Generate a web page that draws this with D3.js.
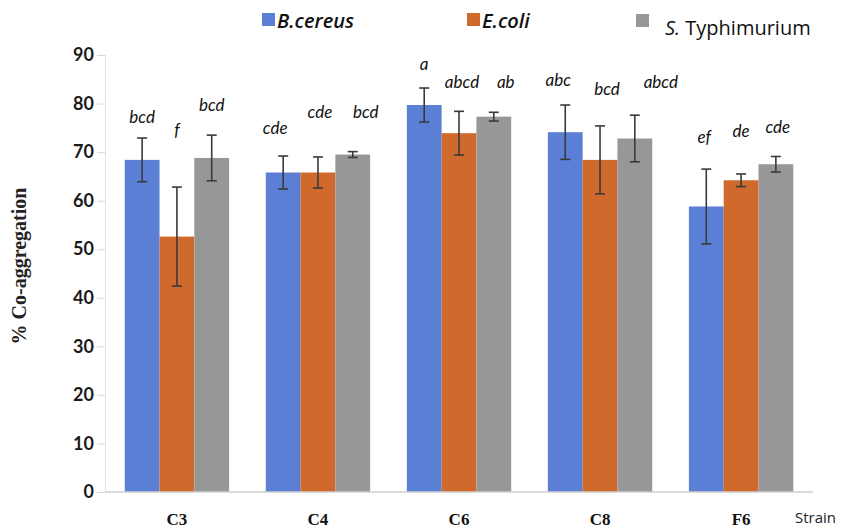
<!doctype html>
<html>
  <head>
    <style>
      body { margin: 0; background: white; }
      .tick text { font-family: Lato, "Open Sans", sans-serif; font-weight: 700; font-size: 18px; fill: #1a1a1a; }
      .letters { font-family: Lato, sans-serif; font-style: italic; font-size: 17px; fill: #111; }
      .strain { font-family: "Liberation Serif", serif; font-weight: 700; font-size: 17px; fill: #111; }
    </style>
    <script src="https://cdnjs.cloudflare.com/ajax/libs/d3/7.8.5/d3.min.js"></script>
  </head>
  <body>
    <div id="chart"></div>
    <script>
      var width = 843,
          height = 530;
      var margin = {top: 55, right: 30, bottom: 38, left: 105};

      // values
      var strains = ["C3", "C4", "C6", "C8", "F6"];
      var species = ["B.cereus", "E.coli", "S. Typhimurium"];
      var bcereus = [68.4, 65.8, 79.7, 74.1, 58.8];
      var ecoli = [52.6, 65.8, 73.9, 68.4, 64.2];
      var styph = [68.8, 69.5, 77.3, 72.8, 67.5];
      var bcereusErr = [4.5, 3.4, 3.5, 5.6, 7.7];
      var ecoliErr = [10.2, 3.2, 4.5, 7.0, 1.3];
      var styphErr = [4.7, 0.6, 0.9, 4.8, 1.6];
      var bcereusLetters = ["bcd", "cde", "a", "abc", "ef"];
      var ecoliLetters = ["f", "cde", "abcd", "bcd", "de"];
      var styphLetters = ["bcd", "bcd", "ab", "abcd", "cde"];
      // height (in % units) where each letter group sits
      var bcereusLetterY = [76.0, 73.7, 86.9, 83.6, 71.9];
      var ecoliLetterY = [73.3, 77.0, 83.2, 81.8, 73.1];
      var styphLetterY = [78.5, 77.0, 83.2, 83.2, 73.9];
      var yTicks = [0, 10, 20, 30, 40, 50, 60, 70, 80, 90];
      var colors = ["#5b7fd5", "#d06a2c", "#979797"];
      // sideways nudges of the letters, as placed by hand in the original
      var letterShift = [[0, -8, 0, -7, -2], [0, 2, 3, 7, 0], [0, 13, 12, 26, 2]];

      var values = [bcereus, ecoli, styph],
          errors = [bcereusErr, ecoliErr, styphErr],
          letters = [bcereusLetters, ecoliLetters, styphLetters],
          letterY = [bcereusLetterY, ecoliLetterY, styphLetterY];

      var rows = [];
      strains.forEach(function(s, i) {
        species.forEach(function(sp, j) {
          rows.push({strain: s, species: sp, i: i, j: j, value: values[j][i],
                     err: errors[j][i], letter: letters[j][i], ly: letterY[j][i]});
        });
      });

      var svg = d3.select("#chart").append("svg")
                  .attr("width", width)
                  .attr("height", height);

      var x = d3.scaleBand().domain(strains)
                .range([margin.left, width - margin.right])
                .paddingInner(0.26).paddingOuter(0.14);
      var xs = d3.scaleBand().domain(species).range([0, x.bandwidth()]);
      var y = d3.scaleLinear().domain([0, 90]).range([height - margin.bottom, margin.top]);

      // y axis, pale line and ticks like excel
      var yAxis = svg.append("g")
                     .attr("transform", "translate(" + margin.left + ",0)")
                     .call(d3.axisLeft(y).tickValues(yTicks).tickSize(8).tickPadding(3));
      yAxis.select(".domain").attr("stroke", "#e3e3e3");
      yAxis.selectAll(".tick line").attr("stroke", "#d9d9d9");

      // bars
      svg.selectAll(".bar")
         .data(rows)
         .enter().append("rect")
         .attr("class", "bar")
         .attr("x", function(d) { return x(d.strain) + xs(d.species); })
         .attr("y", function(d) { return y(d.value); })
         .attr("width", xs.bandwidth())
         .attr("height", function(d) { return y(0) - y(d.value); })
         .attr("fill", function(d) { return colors[d.j]; });

      // x axis line
      svg.append("line")
         .attr("x1", margin.left).attr("x2", width - margin.right)
         .attr("y1", y(0)).attr("y2", y(0))
         .attr("stroke", "#cfcfcf").attr("stroke-width", 1.5);

      // error bars
      var eb = svg.selectAll(".err")
                  .data(rows)
                  .enter().append("g")
                  .attr("class", "err")
                  .attr("stroke", "#3a3a3a")
                  .attr("stroke-width", 1.6)
                  .attr("transform", function(d) { return "translate(" + (x(d.strain) + xs(d.species) + xs.bandwidth() / 2) + ",0)"; });
      eb.append("line")
        .attr("y1", function(d) { return y(d.value + d.err); })
        .attr("y2", function(d) { return y(d.value - d.err); });
      eb.append("line")
        .attr("x1", -5).attr("x2", 5)
        .attr("y1", function(d) { return y(d.value + d.err); })
        .attr("y2", function(d) { return y(d.value + d.err); });
      eb.append("line")
        .attr("x1", -5).attr("x2", 5)
        .attr("y1", function(d) { return y(d.value - d.err); })
        .attr("y2", function(d) { return y(d.value - d.err); });

      // significance letters
      svg.selectAll(".letters")
         .data(rows)
         .enter().append("text")
         .attr("class", "letters")
         .attr("text-anchor", "middle")
         .attr("x", function(d) { return x(d.strain) + xs(d.species) + xs.bandwidth() / 2 + letterShift[d.j][d.i]; })
         .attr("y", function(d) { return y(d.ly); })
         .text(function(d) { return d.letter; });

      // strain labels
      svg.selectAll(".strain")
         .data(strains)
         .enter().append("text")
         .attr("class", "strain")
         .attr("text-anchor", "middle")
         .attr("x", function(d) { return x(d) + x.bandwidth() / 2; })
         .attr("y", 525)
         .text(function(d) { return d; });

      svg.append("text")
         .attr("x", 795).attr("y", 523)
         .style("font-family", "'Open Sans', sans-serif")
         .style("font-size", "15px")
         .style("fill", "#222")
         .text("Strain");

      // y title
      svg.append("text")
         .attr("transform", "translate(26," + 266 + ") rotate(-90)")
         .attr("text-anchor", "middle")
         .style("font-family", "'Liberation Serif', serif")
         .style("font-weight", 700)
         .style("font-size", "20px")
         .style("fill", "#222")
         .text("% Co-aggregation");

      // legend
      var legX = [262, 467, 636];
      var leg = svg.selectAll(".leg")
                   .data(species)
                   .enter().append("g")
                   .attr("class", "leg")
                   .attr("transform", function(d, i) { return "translate(" + legX[i] + ",0)"; });
      leg.append("rect")
         .attr("y", function(d, i) { return i == 2 ? 14 : 13; })
         .attr("width", 13).attr("height", 13)
         .attr("fill", function(d, i) { return colors[i]; });
      leg.filter(function(d, i) { return i < 2; })
         .append("text")
         .attr("x", 15).attr("y", 28)
         .style("font-family", "'Open Sans', sans-serif")
         .style("font-style", "italic")
         .style("font-weight", 600)
         .style("font-size", "20px")
         .style("fill", "#111")
         .text(function(d) { return d; });
      var st = leg.filter(function(d, i) { return i == 2; })
                  .append("text")
                  .attr("x", 29).attr("y", 35)
                  .style("font-family", "'Open Sans', sans-serif")
                  .style("font-size", "20px")
                  .style("fill", "#111");
      st.append("tspan").style("font-style", "italic").text("S.");
      st.append("tspan").text(" Typhimurium");
    </script>
  </body>
</html>
